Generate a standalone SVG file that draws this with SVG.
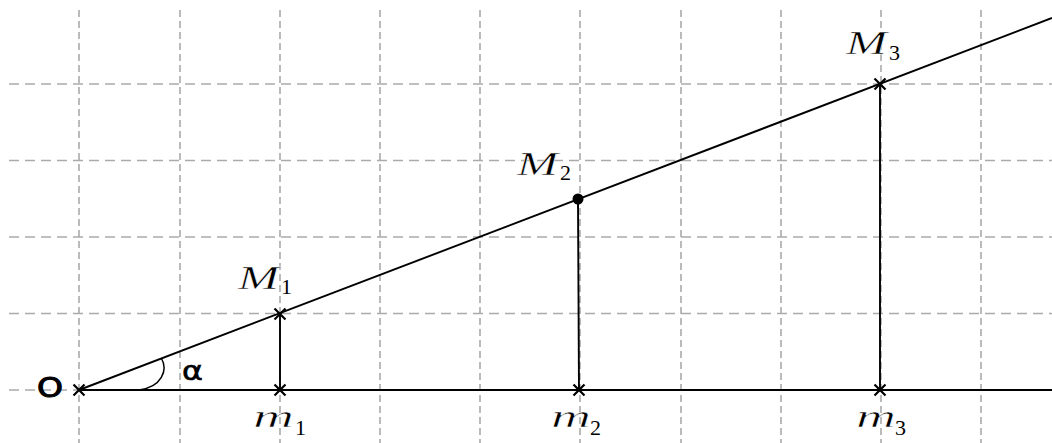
<svg xmlns="http://www.w3.org/2000/svg" width="1052" height="443" viewBox="0 0 1052 443">
<style>
.gv{stroke:#aaaaaa;stroke-width:1.6;stroke-dasharray:7 4;fill:none}
.gh{stroke:#aaaaaa;stroke-width:1.6;stroke-dasharray:10 6;fill:none}
.ln{stroke:#000;stroke-width:1.9;fill:none}
.cr{stroke:#000;stroke-width:2.2;fill:none}
.bigM{font-family:"Liberation Serif",serif;font-style:italic;fill:#000;font-size:34px;stroke:#fff;stroke-width:0.45px}
.smm{font-family:"Liberation Serif",serif;font-style:italic;fill:#000;font-size:32px;stroke:#fff;stroke-width:0.55px}
.sb{font-family:"Liberation Serif",serif;fill:#000;font-size:22px}
.oo{font-family:"DejaVu Sans","Liberation Sans",sans-serif;fill:#000;font-size:26px;stroke:#000;stroke-width:1px}
.al{font-family:"DejaVu Sans","Liberation Sans",sans-serif;fill:#000;font-size:27px;stroke:#000;stroke-width:0.6px}
</style>
<defs>
<path id="x" d="M-5.5,-5.5L5.5,5.5M-5.5,5.5L5.5,-5.5" class="cr"/>
</defs>
<rect width="1052" height="443" fill="#fff"/>
<g id="grid">
<line class="gv" x1="79" y1="10" x2="79" y2="443"/>
<line class="gv" x1="180" y1="10" x2="180" y2="443"/>
<line class="gv" x1="280" y1="10" x2="280" y2="443"/>
<line class="gv" x1="380" y1="10" x2="380" y2="443"/>
<line class="gv" x1="480" y1="10" x2="480" y2="443"/>
<line class="gv" x1="580" y1="10" x2="580" y2="443"/>
<line class="gv" x1="681" y1="10" x2="681" y2="443"/>
<line class="gv" x1="781" y1="10" x2="781" y2="443"/>
<line class="gv" x1="881" y1="10" x2="881" y2="443"/>
<line class="gv" x1="981" y1="10" x2="981" y2="443"/>
<line class="gh" x1="9" y1="84" x2="1052" y2="84"/>
<line class="gh" x1="9" y1="160.5" x2="1052" y2="160.5"/>
<line class="gh" x1="9" y1="237" x2="1052" y2="237"/>
<line class="gh" x1="9" y1="313.5" x2="1052" y2="313.5"/>
<line class="gh" x1="9" y1="390" x2="1052" y2="390"/>
</g>
<g id="connectors">
<line class="ln" x1="79" y1="390" x2="1052" y2="390"/>
<line class="ln" x1="79" y1="390" x2="1052" y2="18"/>
<line class="ln" x1="280" y1="314" x2="280" y2="390"/>
<line class="ln" x1="578" y1="199" x2="579" y2="390"/>
<line class="ln" x1="880" y1="84" x2="880" y2="390"/>
<path class="ln" style="stroke-width:1.5" d="M161.5,358.5 C168,370 162,387 139,390"/>
</g>
<g id="O">
<use href="#x" x="79" y="390"/>
<text class="oo" x="37" y="397" textLength="26" lengthAdjust="spacingAndGlyphs">O</text>
</g>
<g id="alpha">
<text class="al" x="182" y="380" textLength="21" lengthAdjust="spacingAndGlyphs">α</text>
</g>
<g id="M1">
<use href="#x" x="280" y="314"/>
<text class="bigM" x="238" y="289" textLength="41" lengthAdjust="spacingAndGlyphs">M</text>
<text class="sb" x="281" y="294">1</text>
</g>
<g id="M2">
<circle cx="578" cy="199" r="5.5" fill="#000"/>
<text class="bigM" x="517" y="175" textLength="41" lengthAdjust="spacingAndGlyphs">M</text>
<text class="sb" x="560" y="180">2</text>
</g>
<g id="M3">
<use href="#x" x="880" y="84"/>
<text class="bigM" x="846" y="54" textLength="41" lengthAdjust="spacingAndGlyphs">M</text>
<text class="sb" x="889" y="60">3</text>
</g>
<g id="m1">
<use href="#x" x="280" y="390"/>
<text class="smm" x="253" y="427" textLength="41" lengthAdjust="spacingAndGlyphs">m</text>
<text class="sb" x="295" y="435">1</text>
</g>
<g id="m2">
<use href="#x" x="579" y="390"/>
<text class="smm" x="551" y="427" textLength="40" lengthAdjust="spacingAndGlyphs">m</text>
<text class="sb" x="590" y="435">2</text>
</g>
<g id="m3">
<use href="#x" x="880" y="390"/>
<text class="smm" x="856" y="427" textLength="40" lengthAdjust="spacingAndGlyphs">m</text>
<text class="sb" x="895" y="435">3</text>
</g>
</svg>
